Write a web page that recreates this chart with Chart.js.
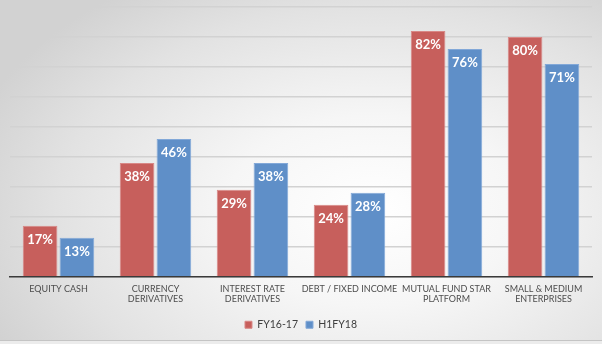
<!DOCTYPE html>
<html>
<head>
<meta charset="utf-8">
<script src="https://cdn.jsdelivr.net/npm/chart.js@4/dist/chart.umd.min.js"></script>
<style>
  html, body { margin: 0; padding: 0; background: #ececec; }
  #marco {
    width: 602px; height: 340px; position: relative;
    border-bottom: 1px solid #c4c4c4;
    background: radial-gradient(ellipse 70% 80% at 62% 62%, #ffffff 0%, #f6f6f6 35%, #e2e2e2 75%, #d2d2d2 100%);
  }
</style>
</head>
<body>
<div id="marco"><canvas id="grafico"></canvas></div>
<script>
// categorías y series (porcentajes)
const categorias = [
  ['EQUITY CASH'],
  ['CURRENCY', 'DERIVATIVES'],
  ['INTEREST RATE', 'DERIVATIVES'],
  ['DEBT / FIXED INCOME'],
  ['MUTUAL FUND STAR', 'PLATFORM'],
  ['SMALL & MEDIUM', 'ENTERPRISES']
];
const serieFY1617 = [17, 38, 29, 24, 82, 80];
const serieH1FY18 = [13, 46, 38, 28, 76, 71];
const nombresSeries = ['FY16-17', 'H1FY18'];

// etiquetas blancas dentro de cada barra
const etiquetasBarras = {
  id: 'etiquetasBarras',
  afterDatasetsDraw(chart) {
    const ctx = chart.ctx;
    ctx.save();
    ctx.fillStyle = '#ffffff';
    ctx.font = 'bold 13px Lato, "Open Sans", sans-serif';
    ctx.textAlign = 'center';
    ctx.textBaseline = 'middle';
    chart.data.datasets.forEach((ds, i) => {
      chart.getDatasetMeta(i).data.forEach((barra, j) => {
        ctx.fillText(ds.data[j] + '%', barra.x, barra.y + 14);
      });
    });
    ctx.restore();
  }
};

new Chart(document.getElementById('grafico'), {
  type: 'bar',
  data: {
    labels: categorias,
    datasets: [
      {
        label: nombresSeries[0],
        data: serieFY1617,
        backgroundColor: '#c75f5c',
        borderColor: '#d88886',
        borderWidth: 1,
        categoryPercentage: 0.76,
        barPercentage: 0.94
      },
      {
        label: nombresSeries[1],
        data: serieH1FY18,
        backgroundColor: '#5f8fc8',
        borderColor: '#82a8d8',
        borderWidth: 1,
        categoryPercentage: 0.76,
        barPercentage: 0.94
      }
    ]
  },
  options: {
    responsive: true,
    maintainAspectRatio: false,
    animation: false,
    layout: { padding: { left: 10, right: 10, top: 7, bottom: 0 } },
    plugins: {
      tooltip: { enabled: false },
      legend: {
        position: 'bottom',
        labels: {
          color: '#404040',
          boxWidth: 7,
          boxHeight: 7,
          padding: 8,
          font: { family: 'Lato, "Open Sans", sans-serif', size: 10.5, lineHeight: 1 }
        }
      }
    },
    scales: {
      y: {
        min: 0,
        max: 90,
        ticks: { display: false, stepSize: 10 },
        grid: { color: '#d2d2d2', lineWidth: 1.5, drawTicks: false },
        border: { display: false }
      },
      x: {
        grid: { display: false, drawTicks: false },
        border: { color: '#3a3a3a', width: 1.5 },
        ticks: {
          color: '#4d4d4d',
          padding: 7,
          maxRotation: 0,
          autoSkip: false,
          font: { family: 'Lato, "Open Sans", sans-serif', size: 9, lineHeight: 1.15 }
        }
      }
    }
  },
  plugins: [etiquetasBarras]
});
</script>
</body>
</html>
